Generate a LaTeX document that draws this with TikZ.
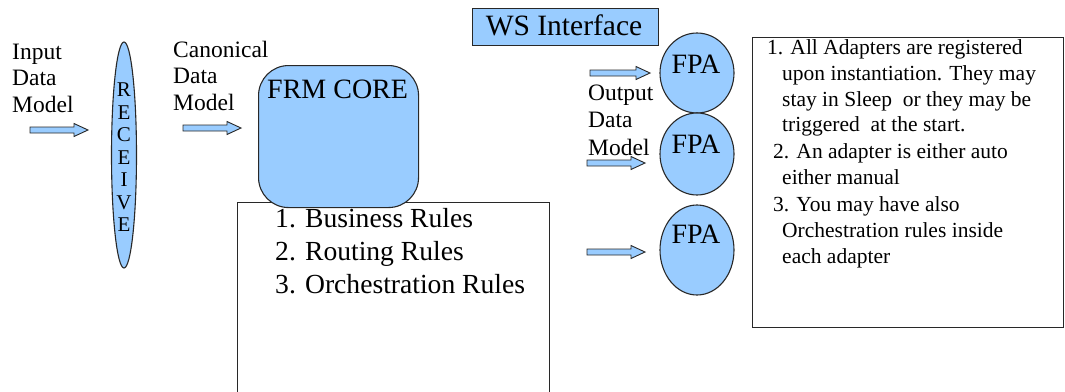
\documentclass[tikz,border=0pt]{standalone}
\usepackage{fontspec}
\setmainfont{Liberation Serif}
\newfontfamily\serf{Liberation Serif}
\usetikzlibrary{shapes.geometric}
\definecolor{fillblue}{RGB}{153,204,255}
\definecolor{edge}{RGB}{40,40,40}
\tikzset{
 lbl/.style={anchor=base west, inner sep=0pt, font=\serf\fontsize{23.5}{26.5}\selectfont},
 rule/.style={anchor=base west, inner sep=0pt, font=\serf\fontsize{27.6}{33}\selectfont},
 note/.style={anchor=base west, inner sep=0pt, font=\serf\fontsize{21.5}{26}\selectfont},
 bigtxt/.style={inner sep=0pt, font=\serf\fontsize{28}{30}\selectfont},
 wsfont/.style={inner sep=0pt, font=\serf\fontsize{29.5}{30}\selectfont},
 letter/.style={inner sep=0pt, font=\serf\fontsize{21}{22}\selectfont},
 bluefill/.style={fill=fillblue, draw=edge, line width=1.1pt},
 plainbox/.style={draw=edge, line width=1.1pt, fill=white},
 barrow/.style={fill=fillblue, draw=edge, line width=0.9pt, line join=miter},
}
\newcommand\blockarr[4]{%
 \coordinate (#1) at (#2,#4);
 \draw[barrow] (#2,#4-3) -- (#3-14,#4-3) -- (#3-14,#4-6.5) -- (#3,#4) -- (#3-14,#4+6.5) -- (#3-14,#4+3) -- (#2,#4+3) -- cycle;
}
\begin{document}
\begin{tikzpicture}[x=1pt,y=-1pt]
\useasboundingbox (0,0) rectangle (1065,391);
% left labels
\node[lbl] (in1) at (12,59) {Input};
\node[lbl] (in2) at (12,85.5) {Data};
\node[lbl] (in3) at (12,112) {Model};
\blockarr{a1}{30}{88}{130}
% receive ellipse
\node[ellipse, bluefill, minimum width=25, minimum height=226, inner sep=0pt] (recv) at (124,155) {};
\foreach \l [count=\i from 0] in {R,E,C,E,I,V,E}
  \node[letter] (r\i) at (124,90+22.5*\i) {\l};
% canonical
\node[lbl] (cn1) at (173,57) {Canonical};
\node[lbl] (cn2) at (173,83.5) {Data};
\node[lbl] (cn3) at (173,110) {Model};
\blockarr{a2}{183}{241}{128}
% rules box
\node[plainbox, anchor=north west, minimum width=312, minimum height=200, inner sep=0pt] (rules) at (237,202) {};
% core
\node[bluefill, rounded corners=30, anchor=north west, minimum width=160, minimum height=142, inner sep=0pt] (core) at (258,65) {};
\node[bigtxt, anchor=base west] (coretxt) at (267,98) {FRM CORE};
\node[rule] (r1) at (275,227) {1. Business Rules};
\node[rule] (r2) at (275,260) {2. Routing Rules};
\node[rule] (r3) at (275,293) {3. Orchestration Rules};
% WS interface
\node[bluefill, anchor=north west, minimum width=186, minimum height=37, inner sep=0pt] (ws) at (472,8) {};
\node[wsfont, anchor=base] (wstxt) at (564,35) {WS Interface};
% output
\blockarr{a3}{590}{650}{73}
\node[lbl] (out1) at (588,100) {Output};
\node[lbl] (out2) at (588,127.5) {Data};
\node[lbl] (out3) at (588,155) {Model};
\blockarr{a4}{587}{645}{163}
\blockarr{a5}{587}{645}{252}
% FPA
\node[ellipse, bluefill, minimum width=74, minimum height=80, inner sep=0pt] (f1) at (697,73) {};
\node[ellipse, bluefill, minimum width=74, minimum height=82, inner sep=0pt] (f2) at (697,154) {};
\node[ellipse, bluefill, minimum width=74, minimum height=90, inner sep=0pt] (f3) at (697,250) {};
\node[bigtxt, anchor=base] (f1t) at (696,73) {FPA};
\node[bigtxt, anchor=base] (f2t) at (696,153) {FPA};
\node[bigtxt, anchor=base] (f3t) at (696,243) {FPA};
% notes box
\node[plainbox, anchor=north west, minimum width=311, minimum height=290, inner sep=0pt] (notes) at (752,37) {};
\node[note] (n1) at (767,54) {1. All Adapters are registered};
\node[note] (n2) at (782,80) {upon instantiation. They may};
\node[note] (n3) at (782,106) {stay in Sleep\ \ or they may be};
\node[note] (n4) at (782,131) {triggered\ \ at the start.};
\node[note] (n5) at (773,158) {2. An adapter is either auto};
\node[note] (n6) at (782,184) {either manual};
\node[note] (n7) at (773,211) {3. You may have also};
\node[note] (n8) at (782,237) {Orchestration rules inside};
\node[note] (n9) at (782,263) {each adapter};
\end{tikzpicture}
\end{document}
